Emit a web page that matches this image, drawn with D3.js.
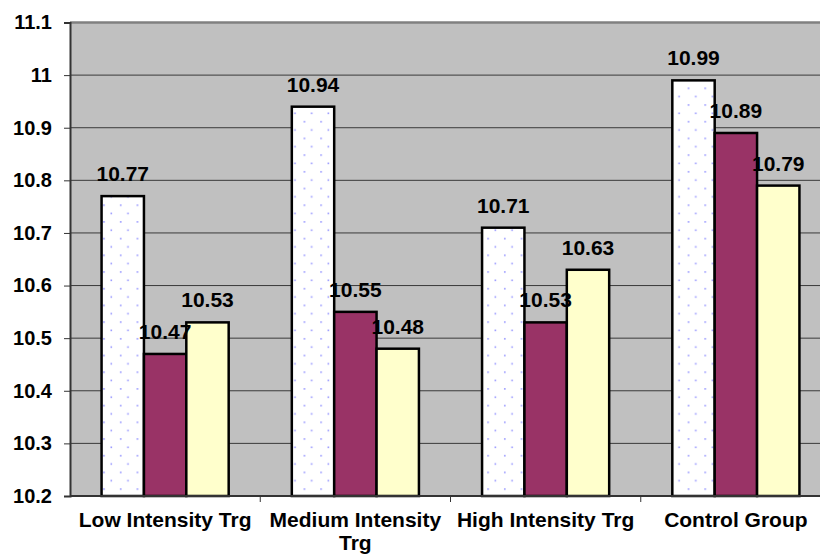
<!DOCTYPE html>
<html><head><meta charset="utf-8">
<script src="https://cdn.jsdelivr.net/npm/d3@7"></script>
<style>html,body{margin:0;padding:0;background:#fff;overflow:hidden}</style>
</head><body>
<svg id="c" width="820" height="555"></svg>
<script>
const categories = ["Low Intensity Trg", "Medium Intensity Trg", "High Intensity Trg", "Control Group"];
const series1 = [10.77, 10.94, 10.71, 10.99];
const series2 = [10.47, 10.55, 10.53, 10.89];
const series3 = [10.53, 10.48, 10.63, 10.79];
const yTicks = [10.2, 10.3, 10.4, 10.5, 10.6, 10.7, 10.8, 10.9, 11, 11.1];
const seriesList = [series1, series2, series3];

const svg = d3.select("#c");
const FONT = "Arial, 'Liberation Sans', sans-serif";
const m = {left: 70, top: 22.5, right: 831, bottom: 496};
const x = d3.scaleBand().domain(categories).range([m.left, m.right]).paddingInner(0).paddingOuter(0);
const y = d3.scaleLinear().domain([10.2, 11.1]).range([m.bottom, m.top]);
const sub = d3.scaleBand().domain([0,1,2]).range([0, x.bandwidth()]).paddingOuter(0.745).paddingInner(0);

const defs = svg.append("defs");
const pat = defs.append("pattern").attr("id","dots").attr("patternUnits","userSpaceOnUse")
  .attr("width",16.7).attr("height",16.7).attr("x",0).attr("y",0);
pat.append("rect").attr("width",16.7).attr("height",16.7).attr("fill","#fff");
pat.append("rect").attr("x",3).attr("y",4).attr("width",1.6).attr("height",1.6).attr("fill","#9999ff");
pat.append("rect").attr("x",10.3).attr("y",12.3).attr("width",1.6).attr("height",1.6).attr("fill","#9999ff");

svg.append("rect").attr("x",m.left).attr("y",m.top).attr("width",m.right-m.left).attr("height",m.bottom-m.top).attr("fill","#c0c0c0");

// gridlines
svg.append("g").selectAll("line").data(yTicks.slice(1)).join("line")
  .attr("x1",m.left).attr("x2",m.right).attr("y1",d=>y(d)).attr("y2",d=>y(d))
  .attr("stroke", d=> d===11.1 ? "#808080" : "#3a3a3a").attr("stroke-width", d=> d===11.1 ? 2.5 : 1);

// y axis
const ya = svg.append("g").attr("transform",`translate(${m.left},0)`)
  .call(d3.axisLeft(y).tickValues(yTicks).tickFormat(d=>String(d)).tickSize(6).tickPadding(12));
ya.select(".domain").attr("stroke","#333").attr("stroke-width",2);
ya.selectAll(".tick line").attr("stroke","#333");
ya.selectAll("text").attr("font-family",FONT).attr("font-weight","bold").attr("font-size",20).attr("fill","#000");

const fills = ["url(#dots)", "#993366", "#ffffcc"];
const bars = svg.append("g");
seriesList.forEach((s,si)=>{
  bars.selectAll(null).data(categories).join("rect")
    .attr("x", c=> x(c)+sub(si))
    .attr("y", (c,i)=> y(s[i]))
    .attr("width", sub.bandwidth())
    .attr("height", (c,i)=> y(10.2)-y(s[i]))
    .attr("fill", fills[si]).attr("stroke","#000").attr("stroke-width",2.5);
});

// x axis
const xa = svg.append("g").attr("transform",`translate(0,${m.bottom})`);
xa.append("line").attr("x1",m.left).attr("x2",m.right).attr("stroke","#333").attr("stroke-width",2);
xa.selectAll(".tk").data(categories.slice(1).concat(["end"])).join("line")
  .attr("x1",(c,i)=> m.left + x.bandwidth()*(i+1)).attr("x2",(c,i)=> m.left + x.bandwidth()*(i+1))
  .attr("y1",0).attr("y2",6).attr("stroke","#333");
const xl = xa.selectAll("text").data(categories).join("text")
  .attr("x", c=> x(c)+x.bandwidth()/2)
  .attr("text-anchor","middle").attr("font-family",FONT)
  .attr("font-weight","bold").attr("font-size",21).attr("fill","#000");
xl.each(function(c){
  const lines = c==="Medium Intensity Trg" ? ["Medium Intensity","Trg"] : [c];
  d3.select(this).selectAll("tspan").data(lines).join("tspan")
    .attr("x", x(c)+x.bandwidth()/2).attr("y",(d,i)=> 31 + i*23).text(d=>d);
});

// value labels
const lab = svg.append("g");
seriesList.forEach((s,si)=>{
  lab.selectAll(null).data(categories).join("text")
    .attr("x", c=> x(c)+sub(si)+sub.bandwidth()/2)
    .attr("y", (c,i)=> y(s[i]) - 15)
    .attr("text-anchor","middle").attr("font-family",FONT)
    .attr("font-weight","bold").attr("font-size",21).attr("fill","#000")
    .text((c,i)=> s[i].toFixed(2));
});
</script>
</body></html>
